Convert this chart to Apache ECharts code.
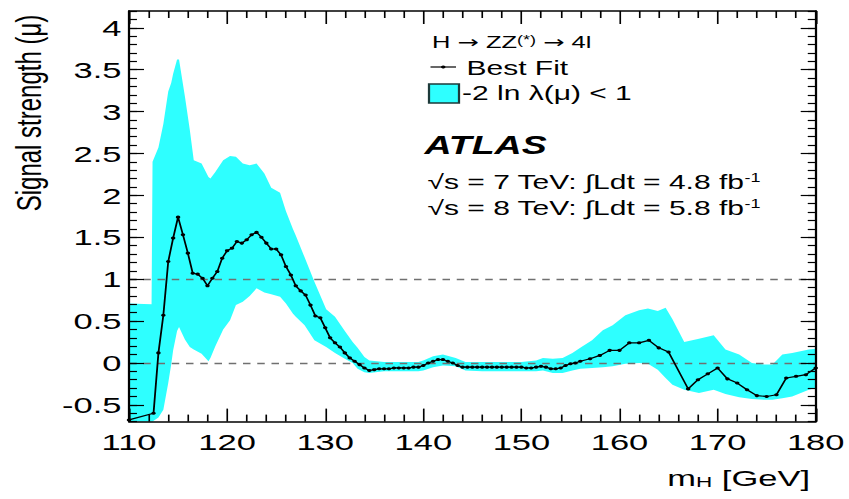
<!DOCTYPE html>
<html>
<head>
<meta charset="utf-8">
<script src="https://cdn.jsdelivr.net/npm/echarts@6/dist/echarts.min.js"></script>
<style>
  html, body { margin: 0; padding: 0; background: #fff; overflow: hidden; }
  #frame { width: 849px; height: 499px; overflow: hidden; position: relative; }
  /* both layers are laid out on a narrower canvas and widened 1.5x */
  .layer { width: 566px; height: 499px; position: absolute; left: 0; top: 0;
           transform: scaleX(1.5); transform-origin: 0 0; }
  #axes { pointer-events: none; }
</style>
</head>
<body>
<div id="frame">
  <div id="plot" class="layer"></div>
  <div id="axes" class="layer"></div>
</div>
<script>
// ---- axis ticks ----
const xTicks = [110, 120, 130, 140, 150, 160, 170, 180];
const yTicks = [-0.5, 0, 0.5, 1, 1.5, 2, 2.5, 3, 3.5, 4];

// ---- best fit signal strength vs m_H ----
const fitMass = [
  110, 112.5, 113, 113.5, 114, 114.5, 115, 115.5, 116, 116.5, 117, 117.5, 118, 118.5, 119, 119.5,
  120, 120.5, 121, 121.5, 122, 122.5, 123, 123.5, 124, 124.5, 125, 125.5, 126, 126.5, 127, 127.5,
  128, 128.5, 129, 129.5, 130, 130.5, 131, 131.5, 132, 132.5, 133, 133.5, 134, 134.5, 135, 135.5,
  136, 136.5, 137, 137.5, 138, 138.5, 139, 139.5, 140, 140.5, 141, 141.5, 142, 142.5, 143, 143.5,
  144, 144.5, 145, 145.5, 146, 146.5, 147, 147.5, 148, 148.5, 149, 149.5, 150, 150.5, 151, 151.5,
  152, 152.5, 153, 153.5, 154, 154.5, 155, 155.5, 156, 157, 158, 159, 160, 161, 162, 163, 164, 165,
  167, 168, 169, 170, 171, 172, 173, 174, 175, 176, 177, 178, 179, 180
];
const fitMu = [
  -0.68, -0.60, 0.12, 0.57, 1.21, 1.49, 1.74, 1.53, 1.31, 1.07, 1.06, 1.01, 0.92, 1.01, 1.09, 1.25,
  1.34, 1.37, 1.45, 1.43, 1.47, 1.53, 1.56, 1.50, 1.43, 1.36, 1.36, 1.29, 1.15, 1.05, 0.92, 0.86,
  0.81, 0.69, 0.56, 0.54, 0.42, 0.30, 0.24, 0.19, 0.12, 0.06, 0.02, -0.02, -0.06, -0.09, -0.08, -0.07,
  -0.07, -0.07, -0.06, -0.06, -0.06, -0.06, -0.05, -0.05, -0.03, 0.00, 0.02, 0.04, 0.04, 0.02, 0.00, -0.03,
  -0.05, -0.05, -0.05, -0.05, -0.05, -0.05, -0.05, -0.05, -0.05, -0.05, -0.05, -0.05, -0.05, -0.06, -0.06, -0.05,
  -0.04, -0.05, -0.07, -0.07, -0.06, -0.03, -0.01, 0.00, 0.02, 0.05, 0.09, 0.15, 0.15, 0.24, 0.24, 0.27, 0.18, 0.13,
  -0.31, -0.20, -0.13, -0.06, -0.19, -0.24, -0.32, -0.39, -0.40, -0.38, -0.18, -0.16, -0.14, -0.06
];

// ---- -2 ln λ(μ) < 1 interval ----
const bandMass = [
  110, 112.3, 112.4, 113, 113.5, 114, 114.3, 114.5, 114.9, 115.1, 115.7, 116.2, 116.6, 117.4, 118.1, 118.3,
  118.8, 119.6, 120.3, 120.9, 121.6, 122.3, 123, 123.8, 124.5, 125.4, 126, 126.7, 127, 127.9, 128.9, 130.1,
  131, 132, 132.8, 133.3, 134, 134.5, 136, 138, 139.5, 140, 141, 142, 143.3, 144.3, 146, 148,
  150, 151.5, 152.2, 153.2, 154.2, 155.2, 156, 157.2, 158.3, 159.3, 160.6, 162, 162.9, 163.9, 164.7, 165.4,
  166.6, 168.1, 169.6, 170.8, 172.2, 173.5, 174.8, 175.6, 176.6, 177.6, 179.3, 180
];
const bandLow = [
  -0.70, -0.70, -0.70, -0.65, -0.56, -0.24, -0.02, 0.15, 0.38, 0.43, 0.28, 0.19, 0.16, 0.11, 0.02, 0.06,
  0.20, 0.40, 0.51, 0.69, 0.73, 0.80, 0.89, 0.84, 0.82, 0.79, 0.71, 0.59, 0.55, 0.45, 0.27, 0.19,
  0.12, 0.05, 0.00, -0.07, -0.11, -0.12, -0.10, -0.10, -0.10, -0.09, -0.05, -0.03, -0.04, -0.09, -0.10, -0.10,
  -0.10, -0.10, -0.09, -0.12, -0.12, -0.09, -0.07, -0.06, -0.05, -0.04, -0.01, 0.00, -0.01, -0.08, -0.18, -0.26,
  -0.32, -0.36, -0.32, -0.37, -0.41, -0.43, -0.44, -0.44, -0.42, -0.40, -0.32, -0.30
];
const bandHigh = [
  0.71, 0.70, 2.40, 2.57, 2.85, 3.24, 3.34, 3.45, 3.62, 3.62, 3.18, 2.78, 2.42, 2.38, 2.22, 2.20,
  2.28, 2.42, 2.47, 2.46, 2.38, 2.36, 2.38, 2.26, 2.09, 2.03, 1.81, 1.60, 1.52, 1.26, 0.97, 0.64,
  0.55, 0.38, 0.25, 0.18, 0.07, 0.03, 0.01, 0.01, 0.01, 0.03, 0.08, 0.10, 0.06, 0.01, 0.01, 0.01,
  0.01, 0.03, 0.06, 0.05, 0.06, 0.12, 0.18, 0.27, 0.39, 0.45, 0.57, 0.63, 0.65, 0.62, 0.66, 0.52,
  0.25, 0.29, 0.33, 0.16, 0.10, 0.00, -0.02, -0.02, 0.10, 0.12, 0.16, 0.17
];

// ---- layout and styling ----
const FONT = '"Liberation Sans", Arial, Helvetica, sans-serif';
const ARROW_FONT = '"DejaVu Sans", sans-serif';
const CYAN = '#2EFFFF';
const BLACK = '#000';

const Y_MIN = -0.7, Y_MAX = 4.2;
const PLOT = { left: 86, right: 22.2, top: 11, bottomPx: 421.6, height: 499 };
const pxPerUnit = (PLOT.bottomPx - PLOT.top) / (Y_MAX - Y_MIN);
// a second grid spans exactly the labelled range so that major ticks fall on multiples of 0.5
const majorTop = PLOT.top + (Y_MAX - yTicks[yTicks.length - 1]) * pxPerUnit;
const majorBottomPx = PLOT.bottomPx - (yTicks[0] - Y_MIN) * pxPerUnit;

const mainGrid = { left: PLOT.left, right: PLOT.right, top: PLOT.top, bottom: PLOT.height - PLOT.bottomPx };
const majorGrid = { left: PLOT.left, right: PLOT.right, top: majorTop, bottom: PLOT.height - majorBottomPx };

// ================= data layer: band, best fit, reference lines, annotations =================
const plotChart = echarts.init(document.getElementById('plot'), null, { renderer: 'svg' });

plotChart.setOption({
  animation: false,
  backgroundColor: '#fff',
  grid: [mainGrid],
  xAxis: [{ type: 'value', min: xTicks[0], max: xTicks[xTicks.length - 1], interval: 10, show: false }],
  yAxis: [{ type: 'value', min: Y_MIN, max: Y_MAX, interval: 0.1, show: false }],
  series: [
    {
      name: '-2 ln λ(μ) < 1', type: 'custom', coordinateSystem: 'cartesian2d',
      silent: true, z: 1,
      data: bandMass.map((m, i) => [m, bandLow[i], bandHigh[i]]),
      encode: { x: 0, y: [1, 2] },
      renderItem: function (params, api) {
        // the whole band is one closed outline: upper edge forward, lower edge back
        if (params.dataIndex !== 0) return null;
        const pts = [];
        for (let i = 0; i < bandMass.length; i++) pts.push(api.coord([bandMass[i], bandHigh[i]]));
        for (let i = bandMass.length - 1; i >= 0; i--) pts.push(api.coord([bandMass[i], bandLow[i]]));
        return { type: 'polygon', shape: { points: pts }, style: { fill: CYAN, stroke: null } };
      }
    },
    {
      name: 'Best Fit', type: 'line',
      data: fitMass.map((m, i) => [m, fitMu[i]]),
      symbol: 'circle', symbolSize: 3, z: 5,
      itemStyle: { color: BLACK },
      lineStyle: { color: BLACK, width: 1.2 },
      markLine: {
        silent: true, symbol: ['none', 'none'], label: { show: false },
        lineStyle: { color: '#707070', type: [5, 4.5], width: 1.4 },
        data: [{ yAxis: 0 }, { yAxis: 1 }]
      }
    }
  ],
  graphic: [
    // y axis title
    {
      type: 'text', x: 19, y: 113, rotation: Math.PI / 2,
      style: {
        text: 'Signal strength (μ)', fontSize: 24, fontFamily: FONT, fill: BLACK,
        align: 'center', verticalAlign: 'middle'
      }
    },
    // x axis title
    {
      type: 'text', x: 540, y: 478,
      style: {
        text: '{t|m}{b|H}{t| [GeV]}', align: 'right', verticalAlign: 'middle',
        rich: {
          t: { fontSize: 23, fontFamily: FONT, fill: BLACK },
          b: { fontSize: 15, fontFamily: FONT, fill: BLACK, verticalAlign: 'bottom' }
        }
      }
    },
    // legend block
    {
      type: 'text', x: 288, y: 42,
      style: {
        text: '{t|H }{a|→}{t| ZZ}{s|(*)}{t| }{a|→}{t| 4l}', align: 'left', verticalAlign: 'middle',
        rich: {
          t: { fontSize: 17, fontFamily: FONT, fill: BLACK },
          a: { fontSize: 17, fontFamily: ARROW_FONT, fill: BLACK },
          s: { fontSize: 12, fontFamily: FONT, fill: BLACK, verticalAlign: 'top' }
        }
      }
    },
    {
      type: 'line', shape: { x1: 287, y1: 67, x2: 304, y2: 67 },
      style: { stroke: BLACK, lineWidth: 1.2 }
    },
    {
      type: 'circle', shape: { cx: 295.5, cy: 67, r: 1.5 },
      style: { fill: BLACK }
    },
    {
      type: 'text', x: 311, y: 68,
      style: { text: 'Best Fit', fontSize: 20, fontFamily: FONT, fill: BLACK, align: 'left', verticalAlign: 'middle' }
    },
    {
      type: 'rect', shape: { x: 286, y: 84, width: 20, height: 19 },
      style: { fill: CYAN, stroke: '#1d3a3a', lineWidth: 1.5 }
    },
    {
      type: 'text', x: 308, y: 93,
      style: { text: '-2 ln λ(μ) < 1', fontSize: 20, fontFamily: FONT, fill: BLACK, align: 'left', verticalAlign: 'middle' }
    },
    {
      type: 'text', x: 283, y: 145,
      style: {
        text: 'ATLAS', fontSize: 25, fontWeight: 'bold', fontStyle: 'italic', fontFamily: FONT,
        fill: BLACK, align: 'left', verticalAlign: 'middle'
      }
    },
    {
      type: 'text', x: 285, y: 182,
      style: {
        text: '{t|√s = 7 TeV: ∫Ldt = 4.8 fb}{s|-1}', align: 'left', verticalAlign: 'middle',
        rich: {
          t: { fontSize: 20, fontFamily: FONT, fill: BLACK },
          s: { fontSize: 12, fontFamily: FONT, fill: BLACK, verticalAlign: 'top' }
        }
      }
    },
    {
      type: 'text', x: 285, y: 208,
      style: {
        text: '{t|√s = 8 TeV: ∫Ldt = 5.8 fb}{s|-1}', align: 'left', verticalAlign: 'middle',
        rich: {
          t: { fontSize: 20, fontFamily: FONT, fill: BLACK },
          s: { fontSize: 12, fontFamily: FONT, fill: BLACK, verticalAlign: 'top' }
        }
      }
    }
  ]
});

// ================= axis layer: frame, ticks and tick labels, drawn on top =================
function xAxisDef(gridIndex, position, visible) {
  return {
    type: 'value', gridIndex: gridIndex, position: position,
    min: xTicks[0], max: xTicks[xTicks.length - 1], interval: 10,
    show: visible,
    axisLine: { show: true, onZero: false, lineStyle: { color: BLACK, width: 1.5 } },
    axisTick: { show: true, inside: true, length: 13, lineStyle: { color: BLACK, width: 1.1 } },
    minorTick: { show: true, splitNumber: 5, length: 7, lineStyle: { color: BLACK, width: 1.1 } },
    axisLabel: { show: position === 'bottom', color: BLACK, fontSize: 23, fontFamily: FONT, margin: 9 },
    splitLine: { show: false }, minorSplitLine: { show: false }
  };
}

function yMinorDef(position) {
  return {
    type: 'value', gridIndex: 0, position: position, min: Y_MIN, max: Y_MAX, interval: 0.1,
    axisLine: { show: true, onZero: false, lineStyle: { color: BLACK, width: 1.5 } },
    axisTick: { show: true, inside: true, length: 5.3, lineStyle: { color: BLACK, width: 1.2 } },
    axisLabel: { show: false },
    splitLine: { show: false }
  };
}

function yMajorDef(position) {
  return {
    type: 'value', gridIndex: 1, position: position,
    min: yTicks[0], max: yTicks[yTicks.length - 1], interval: 0.5,
    axisLine: { show: false, onZero: false },
    axisTick: { show: true, inside: true, length: 10, lineStyle: { color: BLACK, width: 1.2 } },
    axisLabel: { show: position === 'left', color: BLACK, fontSize: 23, fontFamily: FONT, margin: 5 },
    splitLine: { show: false }
  };
}

const axisChart = echarts.init(document.getElementById('axes'), null, { renderer: 'svg' });

axisChart.setOption({
  animation: false,
  grid: [mainGrid, majorGrid],
  xAxis: [
    xAxisDef(0, 'bottom', true),
    xAxisDef(0, 'top', true),
    xAxisDef(1, 'bottom', false)
  ],
  yAxis: [
    yMinorDef('left'),
    yMinorDef('right'),
    yMajorDef('left'),
    yMajorDef('right')
  ],
  series: []
});
</script>
</body>
</html>
